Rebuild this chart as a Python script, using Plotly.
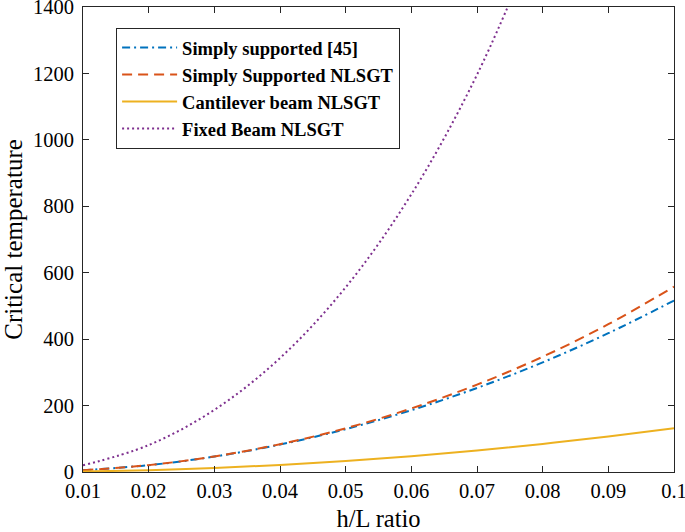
import plotly.graph_objects as go

hl_ratio = [0.01, 0.02, 0.03, 0.04, 0.05, 0.06, 0.07, 0.08, 0.09, 0.10]
simply_ref = [5.2, 20.6, 46.4, 82.6, 129, 186, 253, 330, 418, 516]
simply_nlsgt = [5.2, 20.7, 46.8, 83.7, 131.6, 191.4, 263, 347, 445, 558]
cantilever_nlsgt = [1.3, 5.3, 11.9, 21.1, 33, 47.5, 64.7, 84.5, 107, 132]
fixed_x = [0.01, 0.02, 0.03, 0.04, 0.05, 0.06, 0.07, 0.08]
fixed_nlsgt = [20, 81, 187, 343, 556, 836, 1196, 1652]

x_ticks = [0.01, 0.02, 0.03, 0.04, 0.05, 0.06, 0.07, 0.08, 0.09, 0.1]
x_tick_labels = ["0.01", "0.02", "0.03", "0.04", "0.05", "0.06", "0.07", "0.08", "0.09", "0.1"]
y_ticks = [0, 200, 400, 600, 800, 1000, 1200, 1400]

fig = go.Figure()
fig.add_trace(go.Scatter(x=hl_ratio, y=simply_ref, mode="lines", name="Simply supported [45]",
                         line=dict(color="#0072BD", width=2, dash="8px,4px,2px,4px", shape="spline")))
fig.add_trace(go.Scatter(x=hl_ratio, y=simply_nlsgt, mode="lines", name="Simply Supported NLSGT",
                         line=dict(color="#D95319", width=2, dash="10px,6px", shape="spline")))
fig.add_trace(go.Scatter(x=hl_ratio, y=cantilever_nlsgt, mode="lines", name="Cantilever beam NLSGT",
                         line=dict(color="#EDB120", width=2, shape="spline")))
fig.add_trace(go.Scatter(x=fixed_x, y=fixed_nlsgt, mode="lines", name="Fixed Beam NLSGT",
                         line=dict(color="#7E2F8E", width=2, dash="2px,3px", shape="spline")))

axis_common = dict(showline=True, linecolor="#262626", linewidth=1, mirror="ticks",
                   ticks="inside", ticklen=6, tickcolor="#262626", showgrid=False, zeroline=False,
                   automargin=False, ticklabeloverflow="allow",
                   tickfont=dict(family="Liberation Serif", size=20.5, color="black"))

fig.update_layout(
    width=685, height=532,
    margin=dict(l=83, r=11, t=7, b=60),
    paper_bgcolor="white", plot_bgcolor="white",
    font=dict(family="Liberation Serif", color="black"),
    xaxis=dict(range=[0.01, 0.1000001], tickvals=x_ticks, ticktext=x_tick_labels,
               title=dict(text="h/L ratio", font=dict(size=24.5), standoff=11), **axis_common),
    yaxis=dict(range=[0, 1400.001], tickvals=y_ticks, ticklabelstandoff=4,
               title=dict(text="Critical temperature", font=dict(size=25), standoff=13), **axis_common),
    legend=dict(x=0.056, y=0.955, xanchor="left", yanchor="top", bgcolor="white",
                bordercolor="#262626", borderwidth=1, itemwidth=55,
                font=dict(family="Liberation Serif", size=18.5, color="black", weight="bold"),
                tracegroupgap=0),
    showlegend=True,
)

fig.write_html("out.html", config={"displayModeBar": False},
               post_script="document.body.style.margin='0';document.body.style.overflow='hidden';")
